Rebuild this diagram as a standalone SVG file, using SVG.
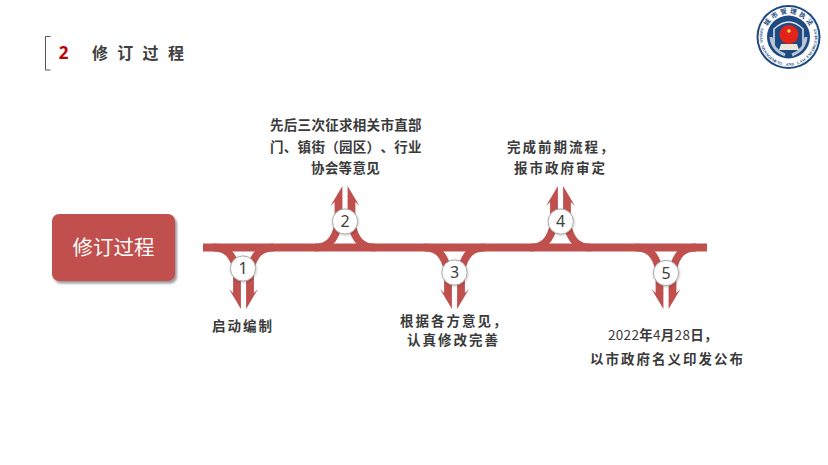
<svg xmlns="http://www.w3.org/2000/svg" width="828" height="465" viewBox="0 0 828 465">
<style>
.cjk{font-family:"Noto Sans CJK SC","Noto Sans",sans-serif}
.lbl{font-size:13.500px;font-weight:700;fill:#3a3a3a;letter-spacing:2px}
.tight{letter-spacing:0.300px}
.num{font-family:"Noto Sans","Liberation Sans",sans-serif;font-size:16px;fill:#3f3f3f;text-anchor:middle}
.disc{fill:#fff;stroke:#a8a8a8;stroke-width:1;filter:url(#ds)}
.arm{fill:none;stroke:#C0504D;stroke-width:7.800}
.head{fill:#C0504D}
</style>
<defs>
<filter id="ds" x="-30%" y="-30%" width="160%" height="160%"><feDropShadow dx="0.500" dy="0.800" stdDeviation="0.800" flood-color="#000" flood-opacity="0.250"/></filter>
<filter id="bs" x="-10%" y="-10%" width="120%" height="120%"><feDropShadow dx="2" dy="2.500" stdDeviation="1" flood-color="#000" flood-opacity="0.400"/></filter>
<g id="branch">
<path class="arm" d="M-30 0C-18 0-10 6-6.500 24L-6.500 46"/>
<path class="arm" d="M30 0C18 0 10 6 6.500 24L6.500 46"/>
<path class="head" d="M-2.600 61.500L-14.500 41.500L-10.400 45.500L-2.600 45.500Z"/>
<path class="head" d="M2.600 61.500L14.500 41.500L10.400 45.500L2.600 45.500Z"/>
</g>
</defs>

<g id="header">
<path d="M50.500 36.500H45.500V70H50.500" fill="none" stroke="#555" stroke-width="1"/>
<text x="63.500" y="59" font-family="'Noto Sans','Liberation Sans',sans-serif" font-size="17" font-weight="700" fill="#C00000" text-anchor="middle">2</text>
<text class="cjk" x="92" y="59" font-size="16" font-weight="700" fill="#404040" letter-spacing="9.300">修订过程</text>
</g>

<g id="logo">
<circle cx="788.500" cy="37" r="32" fill="#1d4a80"/>
<circle cx="788.500" cy="37" r="30" fill="#fff"/>
<circle cx="788.500" cy="37" r="21.500" fill="#1d4a80"/>
<path d="M774 45V29Q789 15 803 29V45" fill="none" stroke="#dfe6ee" stroke-width="1.500"/>
<path d="M771 37Q772 50 785 55M806 37Q805 50 792 55" fill="none" stroke="#b9c6d6" stroke-width="3"/>
<circle cx="789" cy="34.500" r="9.500" fill="#e2231a"/>
<circle cx="789" cy="31" r="1.800" fill="#f6d64a"/>
<path d="M781 44H797L799 50H779Z" fill="#e9e6dc"/>
<text class="cjk" font-size="6.500" font-weight="700" fill="#1d4a80" x="767.380 772.970 780.830 789.790 798.570 805.880" y="26.180 19.060 14.550 13.310 15.520 20.860" rotate="-55 -33 -11 11 33 55">城市管理执法</text>
<text font-family="'Liberation Serif',serif" font-size="4" font-weight="700" fill="#1d4a80" x="761.070 760.280 759.810 759.650 759.820 760.290 761.060 762.160 763.520 765.180 767.080 769.210 771.540 774.080 776.790 779.590 782.530 785.500 788.500 791.510 794.510 797.410 800.240 802.940 805.450 807.800 809.940 811.840 813.480 814.860 815.930 816.720 817.190 817.350 817.180 816.710" y="28.090 31.030 34 37 40.010 43.010 45.910 48.740 51.440 53.950 56.300 58.440 60.340 61.980 63.360 64.430 65.220 65.690 65.850 65.680 65.210 64.440 63.340 61.980 60.320 58.420 56.290 53.960 51.420 48.710 45.910 42.970 40 37 33.990 30.990" rotate="105 99 93 87 81 75 69 63 57 51 45 39 33 27 21 15 9 3 -3 -9 -15 -21 -27 -33 -39 -45 -51 -57 -63 -69 -75 -81 -87 -93 -99 -105">URBAN MANAGEMENT AND LAW ENFORCEMENT</text>
</g>

<g id="title-box">
<rect x="52" y="214" width="123" height="67" rx="7" fill="#C0504D" filter="url(#bs)"/>
<text class="cjk" x="113.500" y="255" font-size="20.500" font-weight="400" fill="#fff" text-anchor="middle">修订过程</text>
</g>

<g id="connectors">
<rect x="203" y="243.500" width="504" height="8" fill="#C0504D"/>
<use href="#branch" transform="translate(243.500 247.500)"/>
<use href="#branch" transform="translate(345 247.500) scale(1 -1)"/>
<use href="#branch" transform="translate(454.500 247.500)"/>
<use href="#branch" transform="translate(560.500 247.500) scale(1 -1)"/>
<use href="#branch" transform="translate(666 247.500)"/>
</g>

<g id="node-1"><circle class="disc" cx="243" cy="268.500" r="12.600"/><text class="num" x="243" y="274.300">1</text></g>
<g id="node-2"><circle class="disc" cx="345" cy="221.500" r="12.600"/><text class="num" x="345" y="227.300">2</text></g>
<g id="node-3"><circle class="disc" cx="454.500" cy="272.500" r="12.600"/><text class="num" x="454.500" y="278.300">3</text></g>
<g id="node-4"><circle class="disc" cx="560.700" cy="221.500" r="12.600"/><text class="num" x="560.700" y="227.300">4</text></g>
<g id="node-5"><circle class="disc" cx="666" cy="273" r="12.600"/><text class="num" x="666" y="278.800">5</text></g>

<g id="label-1" class="cjk"><text class="lbl" x="212" y="331">启动编制</text></g>
<g id="label-2" class="cjk">
<text class="lbl tight" x="270" y="130">先后三次征求相关市直部</text>
<text class="lbl tight" x="270 283.800 297.600 311.400 325.200 339 352.800 366.600 380.400 394.200 408" y="152">门、镇街（园区）、行业</text>
<text class="lbl tight" x="311" y="173">协会等意见</text>
</g>
<g id="label-3" class="cjk">
<text class="lbl" x="400" y="326">根据各方意见，</text>
<text class="lbl" x="407" y="345">认真修改完善</text>
</g>
<g id="label-4" class="cjk">
<text class="lbl" x="507" y="152">完成前期流程，</text>
<text class="lbl" x="514" y="173">报市政府审定</text>
</g>
<g id="label-5" class="cjk">
<text class="lbl tight" x="608" y="340"><tspan font-weight="400">2022</tspan>年<tspan font-weight="400">4</tspan>月<tspan font-weight="400">28</tspan>日，</text>
<text class="lbl" x="590" y="364">以市政府名义印发公布</text>
</g>
</svg>
